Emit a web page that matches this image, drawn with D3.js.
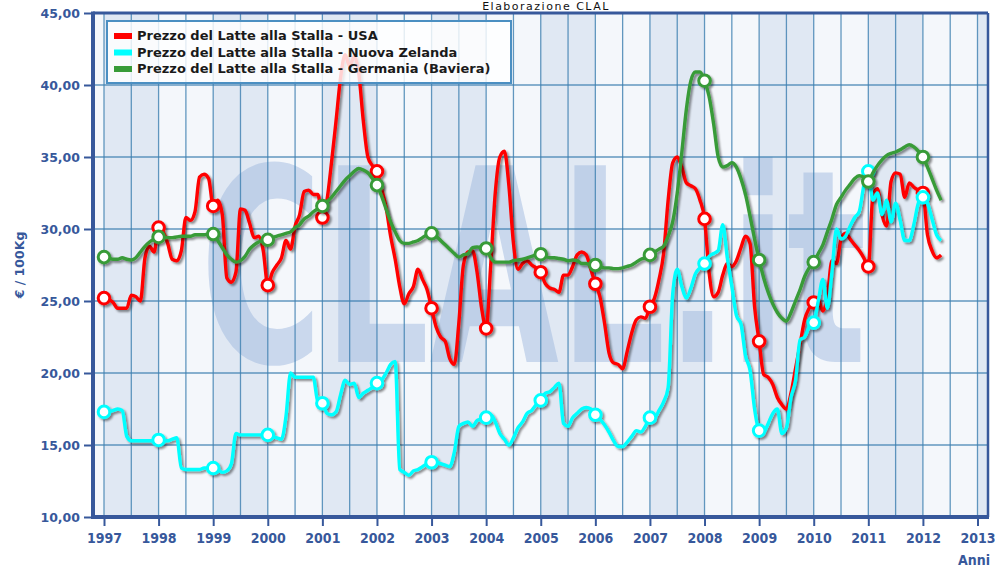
<!DOCTYPE html>
<html>
<head>
<meta charset="utf-8">
<script src="https://cdnjs.cloudflare.com/ajax/libs/d3/7.8.5/d3.min.js"></script>
<style>
	body{margin:0;background:#fff;}
	svg{display:block;}
</style>
</head>
<body>
<div id="chart"></div>
<script>
var years = [1997,1998,1999,2000,2001,2002,2003,2004,2005,2006,2007,2008,2009,2010,2011,2012,2013];
var yTicks = [10,15,20,25,30,35,40,45];
var seriesNames = [
	'Prezzo del Latte alla Stalla - USA',
	'Prezzo del Latte alla Stalla - Nuova Zelanda',
	'Prezzo del Latte alla Stalla - Germania (Baviera)'
];
var seriesColors = ['#ff0000','#00ffff','#389b38'];

// monthly prices, Jan 1997 -> May 2012 (EUR / 100Kg)
var usa = [
	25.2,25.1,24.9,24.5,24.5,24.5,25.4,25.3,25.0,28.0,28.8,28.4,
	30.1,29.8,29.0,27.9,27.8,28.5,30.8,30.6,31.2,33.6,33.8,33.5,
	31.6,32.0,31.0,26.6,26.3,27.0,31.4,31.3,30.4,29.4,29.5,28.5,
	26.1,27.0,27.5,28.0,29.2,28.6,30.2,31.0,32.6,32.7,32.4,32.4,
	30.8,32.0,34.6,37.5,40.5,42.1,41.3,42.0,40.8,37.5,35.0,34.4,
	34.0,32.8,31.5,29.5,27.9,26.0,24.8,25.5,26.0,27.2,26.5,25.8,
	24.5,23.2,22.5,22.2,21.0,20.6,23.5,27.5,28.4,28.5,27.0,24.5,
	23.1,27.5,32.5,35.0,35.4,33.0,29.0,27.2,27.6,27.8,27.5,27.3,
	27.0,26.2,25.9,25.8,25.6,26.8,26.8,27.4,28.2,28.4,28.2,27.2,
	26.2,25.3,23.5,21.4,20.7,20.6,20.3,21.5,22.8,23.7,23.9,23.8,
	24.6,25.2,26.5,28.3,32.0,34.6,35.0,34.3,33.2,33.0,32.8,32.0,
	30.7,27.0,25.3,25.6,26.8,27.6,27.4,27.8,28.7,29.5,29.0,24.6,
	22.2,19.9,19.7,19.2,18.3,17.8,17.5,18.6,20.3,22.0,23.7,24.5,
	24.9,25.1,24.3,25.3,27.8,27.6,29.3,29.7,29.3,28.9,28.5,28.0,
	27.4,32.3,32.8,31.0,30.2,33.3,33.9,33.8,32.2,33.2,32.9,32.7,
	32.5,29.6,28.5,28.0,28.2
];
var nz = [
	17.3,17.3,17.4,17.5,17.4,15.6,15.3,15.3,15.3,15.3,15.3,15.3,
	15.35,15.3,15.3,15.4,15.5,13.4,13.3,13.3,13.3,13.3,13.4,13.4,
	13.4,13.3,13.1,13.2,13.7,15.8,15.7,15.7,15.7,15.7,15.7,15.7,
	15.7,15.6,15.5,15.4,17.0,20.0,19.7,19.7,19.7,19.7,19.7,18.0,
	17.9,17.2,17.1,17.3,18.5,19.5,19.2,19.3,18.3,18.6,18.8,19.0,
	19.3,19.5,20.0,20.6,20.8,13.3,13.1,12.9,13.2,13.3,13.5,13.7,
	13.8,13.8,13.7,13.6,13.5,14.5,16.3,16.5,16.6,16.3,16.7,16.8,
	16.9,17.1,16.6,15.8,15.4,15.0,15.5,16.2,16.6,17.2,17.4,17.8,
	18.1,18.6,18.7,19.0,19.3,16.5,16.3,16.9,17.2,17.5,17.6,17.5,
	17.1,16.8,16.4,15.9,15.3,14.9,14.9,15.2,15.6,16.0,15.9,16.3,
	16.9,16.9,17.4,18.0,19.0,25.5,27.2,26.0,25.2,25.9,26.9,27.3,
	27.6,28.1,28.3,28.5,30.3,28.0,26.0,24.0,23.4,21.2,20.2,17.5,
	16.0,15.9,16.5,17.2,17.5,15.8,16.2,18.3,19.5,22.3,22.5,23.2,
	23.5,25.0,26.5,24.5,27.0,30.0,29.3,29.5,30.2,30.8,31.2,33.0,
	34.0,32.0,32.5,31.0,32.0,30.5,31.8,30.6,29.2,29.2,30.3,31.8,
	32.2,31.8,30.7,29.6,29.2
];
var de = [
	28.05,28.0,27.9,27.9,28.0,27.9,27.85,28.0,28.4,28.8,29.1,29.3,
	29.45,29.45,29.4,29.4,29.45,29.5,29.5,29.5,29.6,29.6,29.6,29.65,
	29.65,29.2,28.7,28.2,27.9,27.7,27.8,28.1,28.6,28.9,29.1,29.2,
	29.25,29.4,29.5,29.6,29.7,29.8,30.1,30.3,30.7,30.9,31.2,31.4,
	31.6,31.9,32.2,32.6,33.0,33.4,33.7,34.0,34.2,34.1,33.9,33.5,
	33.05,32.3,31.4,30.5,29.8,29.2,29.0,29.0,29.1,29.2,29.4,29.6,
	29.7,29.5,29.2,28.9,28.6,28.3,28.05,28.2,28.3,28.7,28.75,28.7,
	28.65,28.0,27.7,27.7,27.7,27.7,27.8,27.85,27.9,28.0,28.1,28.2,
	28.25,28.1,28.0,28.0,27.95,27.9,27.8,27.85,27.8,27.6,27.6,27.5,
	27.5,27.4,27.3,27.3,27.25,27.25,27.3,27.4,27.5,27.7,27.9,28.0,
	28.2,28.4,28.6,28.8,29.5,30.5,32.5,35.3,38.3,40.3,40.9,40.9,
	40.3,39.2,37.3,35.0,34.3,34.4,34.6,34.3,33.5,32.4,30.9,29.3,
	27.85,26.6,25.6,24.8,24.2,23.8,23.6,24.2,25.0,25.8,26.7,27.3,
	27.7,28.3,28.9,29.8,30.7,31.7,32.2,32.7,33.1,33.5,33.7,33.6,
	33.3,33.9,34.4,34.8,35.1,35.25,35.35,35.5,35.7,35.85,35.7,35.4,
	35.0,34.3,33.5,32.7,32.0
];

var axisColor = '#37589b';
var gridColor = '#3d7fb0';

var chart = {
	width : 995,
	height : 569,
	left : 93,
	right : 988,
	top : 13,
	bottom : 517,
	svg : null,
	x : null,
	y : null,
	init : function(elem){
		this.svg = d3.select(elem).append('svg')
			.attr('width', this.width)
			.attr('height', this.height);
		this.x = d3.scaleLinear().domain([1997, 2013]).range([104, 977.5]);
		this.y = d3.scaleLinear().domain([10, 45]).range([this.bottom, this.top]);
		this.makeDefs();
		this.drawBackground();
		this.drawSeries();
		this.drawFrame();
		this.drawAxes();
		this.drawLegend();
	},
	makeDefs : function(){
		var defs = this.svg.append('defs');
		defs.append('clipPath').attr('id', 'plot-clip')
			.append('rect')
			.attr('x', this.left).attr('y', this.top)
			.attr('width', this.right - this.left).attr('height', this.bottom - this.top);
		defs.append('filter').attr('id', 'shadow')
			.attr('x', '-10%').attr('y', '-10%').attr('width', '120%').attr('height', '120%')
			.append('feDropShadow')
			.attr('dx', 2).attr('dy', 2).attr('stdDeviation', 1.3)
			.attr('flood-color', '#000').attr('flood-opacity', 0.45);
	},
	drawBackground : function(){
		var x = this.x, y = this.y;
		var xmin = x.invert(this.left), xmax = x.invert(this.right);
		var g = this.svg.append('g').attr('clip-path', 'url(#plot-clip)');

		//year bands, darker on odd years
		g.selectAll('rect.band')
			.data(d3.range(1996, 2014))
			.enter().append('rect')
			.attr('class', 'band')
			.attr('x', function(d){ return x(Math.max(d, xmin)); })
			.attr('y', this.top)
			.attr('width', function(d){ return x(Math.min(d + 1, xmax)) - x(Math.max(d, xmin)); })
			.attr('height', this.bottom - this.top)
			.attr('fill', function(d){ return d % 2 ? '#e0e8f3' : '#f4f7fb'; });

		//watermark, squeezed horizontally
		this.svg.append('text')
			.attr('transform', 'translate(200,362) scale(0.62,1)')
			.style('font-family', 'DejaVu Sans, sans-serif')
			.style('font-weight', 'bold')
			.style('font-size', '270px')
			.style('fill', '#9db7de')
			.style('opacity', 0.48)
			.text('CLAL.it');

		//grid
		var gg = this.svg.append('g');
		gg.selectAll('line.vgrid')
			.data(d3.range(1997, 2013.01, 0.5))
			.enter().append('line')
			.attr('class', 'vgrid')
			.attr('x1', function(d){ return x(d); }).attr('x2', function(d){ return x(d); })
			.attr('y1', this.top).attr('y2', this.bottom)
			.style('stroke', gridColor).style('stroke-width', 1.3).style('opacity', 0.8);
		gg.selectAll('line.hgrid')
			.data(yTicks.slice(1, -1))
			.enter().append('line')
			.attr('class', 'hgrid')
			.attr('x1', this.left).attr('x2', this.right)
			.attr('y1', function(d){ return y(d); }).attr('y2', function(d){ return y(d); })
			.style('stroke', gridColor).style('stroke-width', 1.3).style('opacity', 0.8);
	},
	drawSeries : function(){
		var x = this.x, y = this.y;
		var all = [usa, nz, de];
		var line = d3.line()
			.x(function(d, i){ return x(1997 + i / 12); })
			.y(function(d){ return y(d); })
			.curve(d3.curveMonotoneX);
		var g = this.svg.append('g').attr('clip-path', 'url(#plot-clip)');

		for(var s = 0; s < all.length; s++){
			var sg = g.append('g').attr('filter', 'url(#shadow)');
			sg.append('path')
				.datum(all[s])
				.attr('d', line)
				.style('fill', 'none')
				.style('stroke', seriesColors[s])
				.style('stroke-width', 3.4)
				.style('stroke-linejoin', 'round');
			//markers on january of each year
			var marks = all[s].map(function(d, i){ return {v : d, i : i}; })
				.filter(function(d){ return d.i % 12 === 0; });
			sg.selectAll('circle')
				.data(marks)
				.enter().append('circle')
				.attr('cx', function(d){ return x(1997 + d.i / 12); })
				.attr('cy', function(d){ return y(d.v); })
				.attr('r', 5.8)
				.style('fill', '#fff')
				.style('stroke', seriesColors[s])
				.style('stroke-width', 3);
		}
	},
	drawFrame : function(){
		var g = this.svg.append('g');
		g.append('line').attr('x1', this.left).attr('x2', this.right).attr('y1', this.top).attr('y2', this.top)
			.style('stroke', axisColor).style('stroke-width', 3);
		g.append('line').attr('x1', this.right).attr('x2', this.right).attr('y1', this.top).attr('y2', this.bottom)
			.style('stroke', axisColor).style('stroke-width', 2.5);
		g.append('line').attr('x1', this.left).attr('x2', this.left).attr('y1', this.top - 1.5).attr('y2', this.bottom + 2)
			.style('stroke', axisColor).style('stroke-width', 4);
		g.append('line').attr('x1', this.left - 2).attr('x2', this.right + 1).attr('y1', this.bottom).attr('y2', this.bottom)
			.style('stroke', axisColor).style('stroke-width', 4);
	},
	drawAxes : function(){
		var x = this.x, y = this.y;
		var fmt = d3.format('.2f');

		var yAxis = d3.axisLeft(y)
			.tickValues(yTicks)
			.tickSize(8)
			.tickPadding(4)
			.tickFormat(function(d){ return fmt(d).replace('.', ','); });
		var ya = this.svg.append('g')
			.attr('transform', 'translate(' + (this.left - 1) + ',0)')
			.call(yAxis);
		ya.select('.domain').remove();
		ya.selectAll('line').style('stroke', axisColor).style('stroke-width', 2);
		ya.selectAll('text')
			.style('fill', axisColor)
			.style('font-family', 'DejaVu Sans, Verdana, sans-serif')
			.style('font-weight', 'bold')
			.style('font-size', '12.5px');

		var xAxis = d3.axisBottom(x)
			.tickValues(years)
			.tickSize(8)
			.tickPadding(7)
			.tickFormat(function(d){ return d; });
		var xa = this.svg.append('g')
			.attr('transform', 'translate(0,' + (this.bottom + 1) + ')')
			.call(xAxis);
		xa.select('.domain').remove();
		xa.selectAll('line').style('stroke', axisColor).style('stroke-width', 2);
		xa.selectAll('text')
			.style('fill', axisColor)
			.style('font-family', '"Liberation Sans Narrow", "DejaVu Sans Condensed", sans-serif')
			.style('font-weight', 'bold')
			.style('font-size', '14px');

		this.svg.append('text')
			.attr('x', 990).attr('y', 565)
			.attr('text-anchor', 'end')
			.style('fill', axisColor)
			.style('font-family', '"Liberation Sans Narrow", "DejaVu Sans Condensed", sans-serif')
			.style('font-weight', 'bold')
			.style('font-size', '14px')
			.text('Anni');

		this.svg.append('text')
			.attr('transform', 'translate(24,265) rotate(-90)')
			.attr('text-anchor', 'middle')
			.style('fill', axisColor)
			.style('font-family', 'DejaVu Sans, Verdana, sans-serif')
			.style('font-weight', 'bold')
			.style('font-size', '12.5px')
			.text('\u20ac / 100Kg');

		this.svg.append('text')
			.attr('x', 546).attr('y', 10)
			.attr('text-anchor', 'middle')
			.style('fill', '#111')
			.style('font-family', 'DejaVu Sans, Verdana, sans-serif')
			.style('font-size', '11px')
			.style('letter-spacing', '1.5px')
			.text('Elaborazione CLAL');
	},
	drawLegend : function(){
		var g = this.svg.append('g').attr('transform', 'translate(107,21)');
		g.append('rect')
			.attr('width', 404).attr('height', 62)
			.style('fill', '#fff').style('fill-opacity', 0.82)
			.style('stroke', '#4b8fc2').style('stroke-width', 2);
		var items = g.selectAll('g.item')
			.data(seriesNames)
			.enter().append('g')
			.attr('class', 'item')
			.attr('transform', function(d, i){ return 'translate(0,' + (19 + i * 16.5) + ')'; });
		items.append('rect')
			.attr('x', 7).attr('y', -7)
			.attr('width', 18).attr('height', 6)
			.style('fill', function(d, i){ return seriesColors[i]; });
		items.append('text')
			.attr('x', 30).attr('y', 0)
			.style('fill', '#1a1a1a')
			.style('font-family', 'DejaVu Sans, Verdana, sans-serif')
			.style('font-weight', 'bold')
			.style('font-size', '13px')
			.text(function(d){ return d; });
	}
};

chart.init('#chart');
</script>
</body>
</html>
